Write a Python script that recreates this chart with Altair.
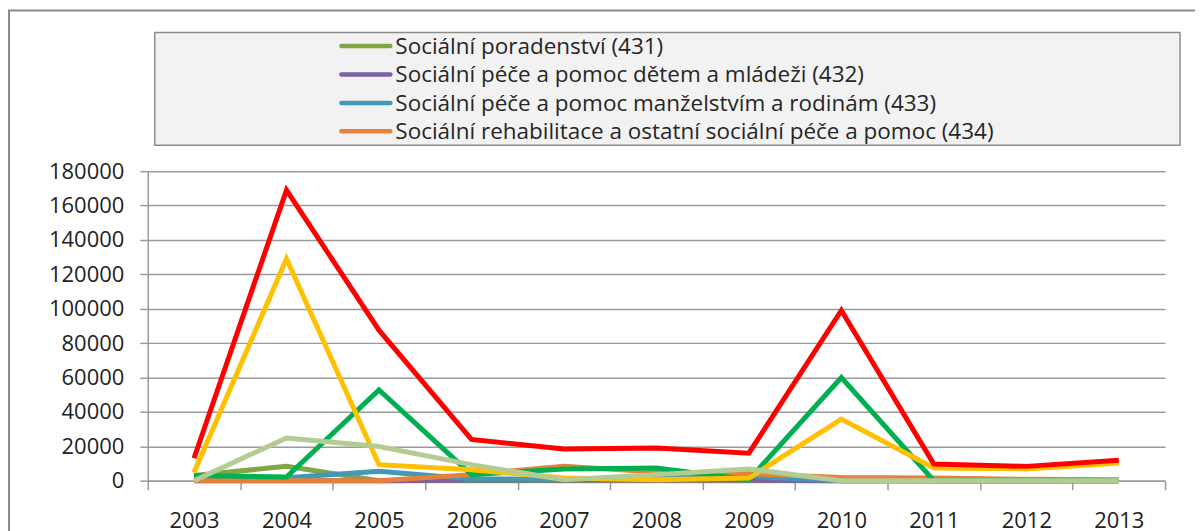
import altair as alt
import pandas as pd

# ---------------- data ----------------
years = ["2003", "2004", "2005", "2006", "2007", "2008", "2009", "2010", "2011", "2012", "2013"]

series_names = [
    "Sociální poradenství (431)",
    "Sociální péče a pomoc dětem a mládeži (432)",
    "Sociální péče a pomoc manželstvím a rodinám (433)",
    "Sociální rehabilitace a ostatní sociální péče a pomoc (434)",
    "Služby sociální péče (435)",
    "Pomoc zdravotně postiženým (436)",
    "Ostatní sociální péče a pomoc (439)",
    "Celkem",
]
series_colors = ["#80a646", "#7f60a0", "#4198b8", "#e5813a", "#00b050", "#ffc000", "#b4cc94", "#ff0000"]

v431 = [3000, 8300, 0, 0, 0, 0, 0, 0, 0, 0, 0]
v432 = [0, 0, 0, 300, 300, 300, 300, 0, 0, 0, 0]
v433 = [800, 1700, 5400, 1000, 800, 2000, 2500, 0, 0, 0, 0]
v434 = [0, 0, 0, 3500, 8300, 5000, 4000, 1900, 1500, 800, 500]
v435 = [3000, 2100, 52800, 3500, 6800, 7400, 500, 60000, 0, 0, 0]
v436 = [4800, 129000, 9300, 6400, 1500, 500, 1500, 35800, 7400, 6800, 10300]
v439 = [0, 24800, 19900, 9300, 500, 3500, 6800, 0, 0, 0, 0]
v_total = [13000, 169000, 87500, 24000, 18400, 19000, 16000, 99000, 9700, 8300, 11800]

series_values = [v431, v432, v433, v434, v435, v436, v439, v_total]
legend_shown = series_names[:4]
y_ticks = [0, 20000, 40000, 60000, 80000, 100000, 120000, 140000, 160000, 180000]

rows = []
for name, vals in zip(series_names, series_values):
    for yr, v in zip(years, vals):
        rows.append({"series": name, "year": yr, "value": v})
df = pd.DataFrame(rows)
legend_df = pd.DataFrame({"series": legend_shown})
one = pd.DataFrame({"k": [0]})

FONT = "Open Sans"
GRAY = "#9a9a9a"

color_scale = alt.Scale(domain=series_names, range=series_colors)

# outer frame of the chart object
frame = alt.Chart(one).mark_rect(fill="white", fillOpacity=0, stroke="#8a8a8a", strokeWidth=2).encode(
    x=alt.value(-139), x2=alt.value(1062), y=alt.value(-161), y2=alt.value(369)
)

# legend box
box = alt.Chart(one).mark_rect(fill="#f2f2f2", stroke="#8c8c8c", strokeWidth=1.5).encode(
    x=alt.value(7), x2=alt.value(1034), y=alt.value(-139), y2=alt.value(-26)
)

lines = alt.Chart(df).mark_line(strokeWidth=5, strokeCap="butt").encode(
    x=alt.X(
        "year:O",
        sort=years,
        bandPosition=0.5,
        scale=alt.Scale(type="band", paddingInner=0, paddingOuter=0),
        axis=alt.Axis(
            title=None, labelAngle=0, tickBand="extent", tickSize=9, labelPadding=21,
            grid=False, domainColor=GRAY, domainWidth=1.5, tickColor=GRAY, tickWidth=1.5,
        ),
    ),
    y=alt.Y(
        "value:Q",
        scale=alt.Scale(domain=[0, 180000], nice=False, zero=True),
        axis=alt.Axis(
            title=None, values=y_ticks, format="d", tickSize=8, labelPadding=16,
            grid=True, gridColor=GRAY, gridWidth=1.5, domainColor=GRAY, domainWidth=1.5,
            tickColor=GRAY, tickWidth=1.5,
        ),
    ),
    color=alt.Color("series:N", scale=color_scale, legend=None),
    detail="series:N",
)

leg_y = alt.Y(
    "series:N",
    sort=legend_shown,
    scale=alt.Scale(type="point", domain=legend_shown, range=[-125.3, -39.9], padding=0),
    axis=None,
)

leg_rule = alt.Chart(legend_df).mark_rule(strokeWidth=4.5, strokeCap="round").encode(
    x=alt.value(194), x2=alt.value(243), y=leg_y,
    color=alt.Color("series:N", scale=color_scale, legend=None),
)

leg_text = alt.Chart(legend_df).mark_text(
    align="left", baseline="middle", font=FONT, fontSize=22.5, color="#262626", dy=1
).encode(x=alt.value(248), y=leg_y, text="series:N")

chart = (
    alt.layer(frame, box, lines, leg_rule, leg_text)
    .resolve_scale(y="independent")
    .properties(
        width=1019,
        height=310,
        autosize=alt.AutoSizeParams(type="none"),
        padding={"left": 140, "top": 163, "right": 30, "bottom": 50},
        background="white",
    )
    .configure_view(stroke=None)
    .configure_axis(labelFont=FONT, labelFontSize=22, labelColor="#222222")
)

chart.save("out.html", embed_options={"renderer": "svg", "actions": False})
